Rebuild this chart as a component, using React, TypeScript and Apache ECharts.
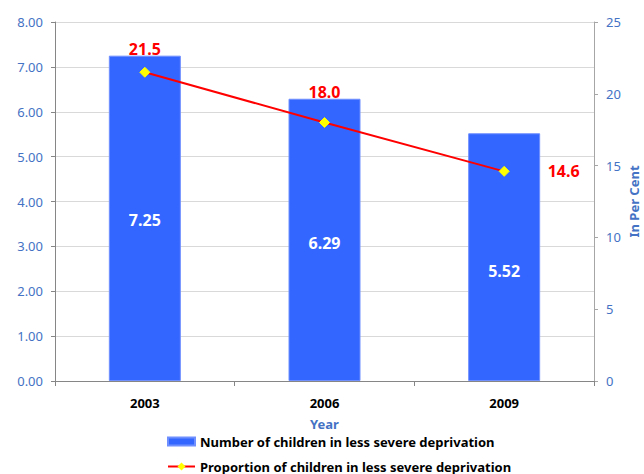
import React, { useEffect, useRef } from "react";
import * as echarts from "echarts";

const years = ["2003", "2006", "2009"];
const childrenCount = [7.25, 6.29, 5.52];
const proportion = [21.5, 18.0, 14.6];
const proportionLabelPos = ["top", "top", "right"];
const proportionLabelGap = [10, 17, 38];
const countLabelShift = [2, 3, 14];

const FONT = "'Noto Sans', 'Open Sans', sans-serif";
const BLUE_TEXT = "#4472C4";
const BAR_NAME = "Number of children in less severe deprivation";
const LINE_NAME = "Proportion of children in less severe deprivation";

const legendText = { fontFamily: FONT, fontSize: 13, fontWeight: "bold", color: "#000" };

export default function App() {
  const ref = useRef<HTMLDivElement>(null);

  useEffect(() => {
    if (!ref.current) return;
    const chart = echarts.init(ref.current, undefined, { renderer: "svg" });
    chart.setOption({
      animation: false,
      textStyle: { fontFamily: FONT },
      grid: { left: 55, right: 50, top: 22, bottom: 93, outerBoundsMode: "none", containLabel: false },
      legend: [
        {
          left: 162,
          top: 430,
          itemWidth: 27,
          itemHeight: 8,
          itemGap: 2,
          textStyle: legendText,
          data: [{ name: BAR_NAME, icon: "rect" }],
        },
        {
          left: 162,
          top: 455,
          itemWidth: 27,
          itemHeight: 10,
          itemGap: 2,
          textStyle: legendText,
          data: [{ name: LINE_NAME }],
        },
      ],
      xAxis: {
        type: "category",
        data: years,
        name: "Year",
        nameLocation: "middle",
        nameGap: 36,
        nameMoveOverlap: false,
        nameTextStyle: { color: BLUE_TEXT, fontWeight: "bold", fontSize: 13, fontFamily: FONT },
        axisLine: { lineStyle: { color: "#868686" } },
        axisTick: { show: true, length: 5, lineStyle: { color: "#868686" } },
        axisLabel: { color: "#000", fontWeight: "bold", fontSize: 13, margin: 15, fontFamily: FONT },
      },
      yAxis: [
        {
          type: "value",
          min: 0,
          max: 8,
          interval: 1,
          axisLine: { show: true, lineStyle: { color: "#868686" } },
          axisTick: { show: true, length: 4, lineStyle: { color: "#868686" } },
          axisLabel: {
            color: BLUE_TEXT,
            fontSize: 13,
            margin: 12,
            fontFamily: FONT,
            formatter: (v: number) => v.toFixed(2),
          },
          splitLine: { lineStyle: { color: "#D9D9D9", width: 1 } },
        },
        {
          type: "value",
          min: 0,
          max: 25,
          interval: 5,
          position: "right",
          name: "In Per Cent",
          nameLocation: "middle",
          nameRotate: 90,
          nameGap: 33,
          nameMoveOverlap: false,
          nameTextStyle: { color: BLUE_TEXT, fontWeight: "bold", fontSize: 13, fontFamily: FONT },
          axisLine: { show: true, lineStyle: { color: "#A6A6A6" } },
          axisTick: { show: true, length: 4, lineStyle: { color: "#A6A6A6" } },
          axisLabel: { color: BLUE_TEXT, fontSize: 13, margin: 12, fontFamily: FONT },
          splitLine: { show: false },
        },
      ],
      series: [
        {
          name: BAR_NAME,
          type: "bar",
          yAxisIndex: 0,
          data: childrenCount.map((v, i) => ({
            value: v,
            label: { offset: [0, countLabelShift[i]] },
          })),
          barWidth: 72,
          itemStyle: { color: "#3366FF", borderColor: "#6F8FFF", borderWidth: 1 },
          label: {
            show: true,
            position: "inside",
            color: "#fff",
            fontWeight: "bold",
            fontSize: 16,
            fontFamily: FONT,
            formatter: (p: any) => p.value.toFixed(2),
          },
        },
        {
          name: LINE_NAME,
          type: "line",
          yAxisIndex: 1,
          data: proportion.map((v, i) => ({
            value: v,
            label: { position: proportionLabelPos[i], distance: proportionLabelGap[i] },
          })),
          lineStyle: { color: "#FF0000", width: 2 },
          itemStyle: { color: "#FFFF00", borderColor: "#FFFF00" },
          symbol: "diamond",
          symbolSize: 10,
          label: {
            show: true,
            color: "#FF0000",
            fontWeight: "bold",
            fontSize: 16,
            fontFamily: FONT,
            formatter: (p: any) => p.value.toFixed(1),
          },
        },
      ],
    });
    return () => chart.dispose();
  }, []);

  return (
    <div
      ref={ref}
      style={{ position: "absolute", left: 0, top: 0, width: 644, height: 474 }}
    />
  );
}
